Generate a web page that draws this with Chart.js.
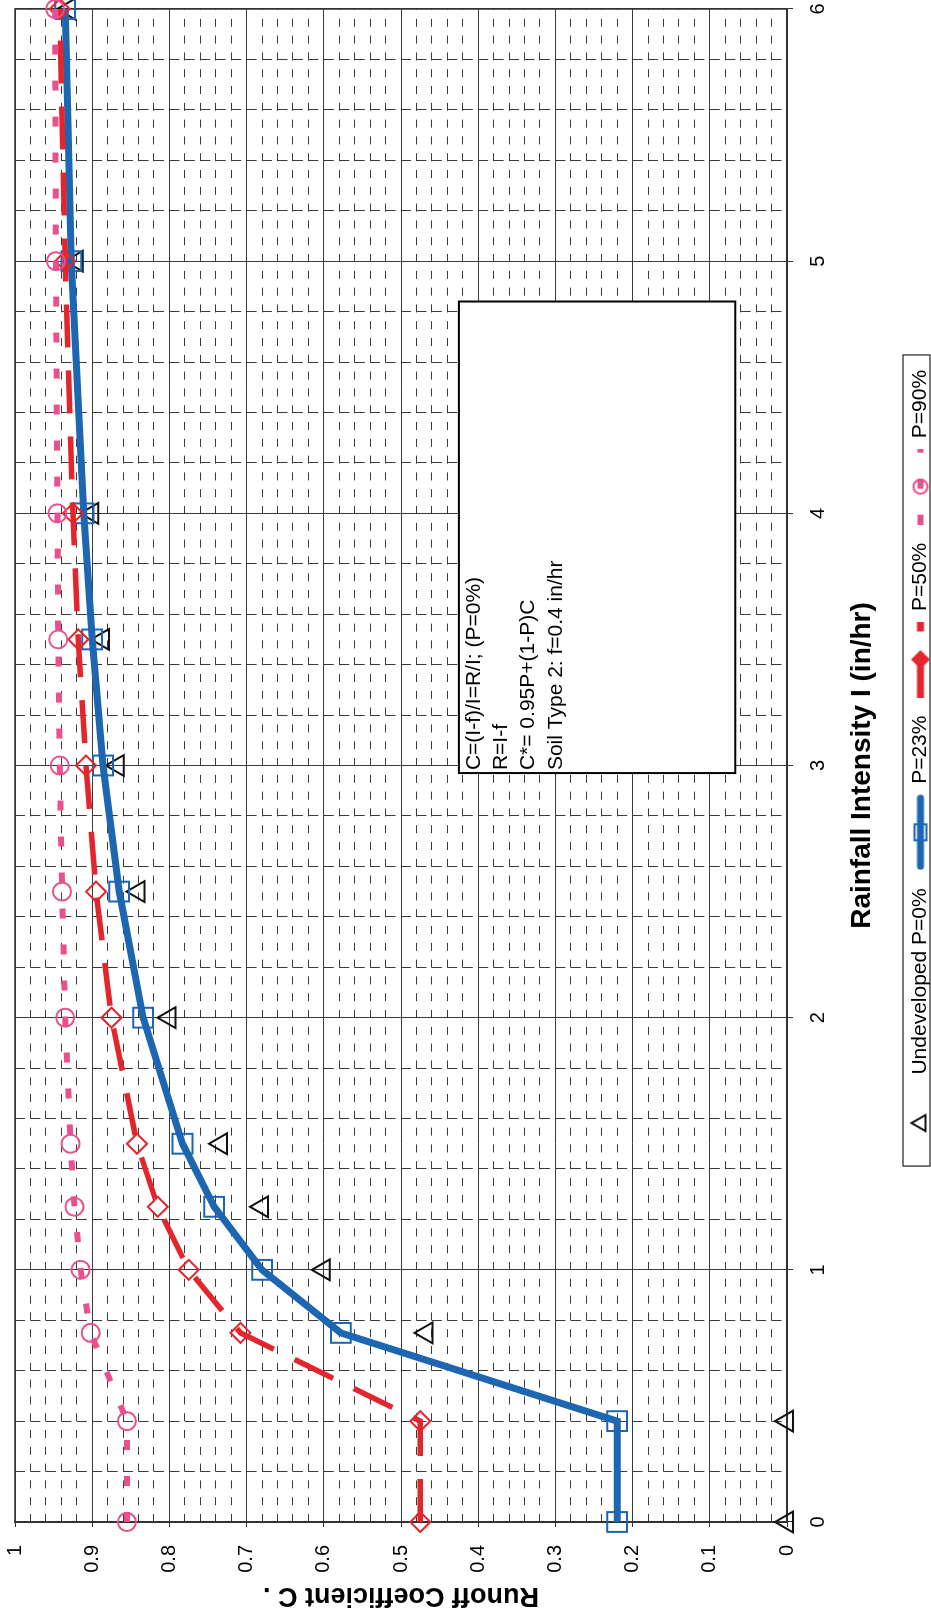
<!DOCTYPE html>
<html>
<head>
<meta charset="utf-8">
<title>Runoff Coefficient C vs Rainfall Intensity</title>
<script src="https://cdn.jsdelivr.net/npm/chart.js@4.4.1/dist/chart.umd.min.js"></script>
<style>
  html, body { margin: 0; padding: 0; background: #fff; overflow: hidden; }
  body { width: 931px; height: 1617px; position: relative; }
  /* chart is laid out landscape, then turned a quarter turn like the printed page */
  #wrap { position: absolute; left: 0; top: 0; width: 1617px; height: 945px; background: #fff;
          transform-origin: 0 0; transform: translate(0, 1617px) rotate(-90deg); }
</style>
</head>
<body>
<div id="wrap"><canvas id="runoff" width="1617" height="945"></canvas></div>
<script>
const intensity   = [0, 0.4, 0.75, 1, 1.25, 1.5, 2, 2.5, 3, 3.5, 4, 5, 6];
const undeveloped = [0, 0, 0.467, 0.6, 0.68, 0.733, 0.8, 0.84, 0.867, 0.886, 0.9, 0.92, 0.93];
const p23 = [0.22, 0.22, 0.578, 0.68, 0.742, 0.783, 0.834, 0.865, 0.886, 0.9, 0.911, 0.927, 0.935];
const p50 = [0.475, 0.475, 0.708, 0.775, 0.815, 0.842, 0.875, 0.895, 0.908, 0.918, 0.925, 0.935, 0.942];
const p90 = [0.855, 0.855, 0.902, 0.915, 0.923, 0.928, 0.935, 0.939, 0.942, 0.944, 0.945, 0.947, 0.948];
const seriesNames = ['Undeveloped P=0%', 'P=23%', 'P=50%', 'P=90%'];

const intensityTicks  = [0, 1, 2, 3, 4, 5, 6];
const intensityLabels = ['0', '1', '2', '3', '4', '5', '6'];
const cTicks  = [0, 0.1, 0.2, 0.3, 0.4, 0.5, 0.6, 0.7, 0.8, 0.9, 1];
const cLabels = ['0', '0.1', '0.2', '0.3', '0.4', '0.5', '0.6', '0.7', '0.8', '0.9', '1'];

const noteLines = ['C=(I-f)/I=R/I; (P=0%)', 'R=I-f', 'C*= 0.95P+(1-P)C', 'Soil Type 2: f=0.4 in/hr'];

const BLUE = '#1d66b1', RED = '#e3262d', PINK = '#e8508e', INK = '#111';
const GRID = '#3a3a3a';

Chart.defaults.font.family = '"Liberation Sans", Arial, sans-serif';
Chart.defaults.color = '#000';

function pts(arr) {
  return intensity.map((x, i) => ({ x: x, y: arr[i] }));
}

// small pictures for the legend: line piece with its marker
function legendIcon(draw) {
  const c = document.createElement('canvas');
  c.width = 76; c.height = 26;
  draw(c.getContext('2d'), 38, 13);
  return c;
}
const legendIcons = [
  legendIcon((g, cx, cy) => {
    g.strokeStyle = INK; g.lineWidth = 2;
    g.beginPath(); g.moveTo(cx, cy - 9); g.lineTo(cx + 8, cy + 5); g.lineTo(cx - 8, cy + 5); g.closePath(); g.stroke();
  }),
  legendIcon((g, cx, cy) => {
    g.strokeStyle = BLUE; g.lineWidth = 7; g.lineCap = 'round';
    g.beginPath(); g.moveTo(4, cy); g.lineTo(72, cy); g.stroke();
    g.lineWidth = 2; g.strokeRect(cx - 8, cy - 6, 16, 12);
  }),
  legendIcon((g, cx, cy) => {
    g.strokeStyle = RED; g.lineWidth = 7; g.setLineDash([43, 23]);
    g.beginPath(); g.moveTo(0, cy); g.lineTo(76, cy); g.stroke();
    g.setLineDash([]); g.lineWidth = 2; g.fillStyle = RED;
    g.beginPath(); g.moveTo(cx, cy - 8); g.lineTo(cx + 8, cy); g.lineTo(cx, cy + 8); g.lineTo(cx - 8, cy); g.closePath(); g.fill(); g.stroke();
  }),
  legendIcon((g, cx, cy) => {
    g.strokeStyle = PINK; g.lineWidth = 6; g.setLineDash([10, 26]);
    g.beginPath(); g.moveTo(0, cy); g.lineTo(76, cy); g.stroke();
    g.setLineDash([]); g.lineWidth = 2;
    g.beginPath(); g.arc(cx, cy, 7, 0, Math.PI * 2); g.stroke();
  })
];

// plot frame, text box and legend border
const decorations = {
  id: 'decorations',
  beforeDatasetsDraw(chart) {
    const { ctx, chartArea: a, scales } = chart;
    ctx.save();
    ctx.strokeStyle = '#333';
    ctx.lineWidth = 1.5;
    ctx.strokeRect(a.left, a.top, a.right - a.left, a.bottom - a.top);

    const x1 = scales.x.getPixelForValue(2.97), x2 = scales.x.getPixelForValue(4.84);
    const y1 = scales.y.getPixelForValue(0.425), y2 = scales.y.getPixelForValue(0.067);
    ctx.fillStyle = '#fff';
    ctx.fillRect(x1, y1, x2 - x1, y2 - y1);
    ctx.strokeStyle = '#000';
    ctx.lineWidth = 2;
    ctx.strokeRect(x1, y1, x2 - x1, y2 - y1);
    ctx.fillStyle = '#000';
    ctx.font = '21px "Liberation Sans", Arial, sans-serif';
    ctx.textBaseline = 'middle';
    ctx.textAlign = 'left';
    noteLines.forEach((t, i) => ctx.fillText(t, x1 + 3, y1 + 15 + i * 27.3));
    ctx.restore();
  },
  afterDraw(chart) {
    const lg = chart.legend, hb = lg.legendHitBoxes;
    if (!hb || !hb.length) return;
    const last = hb[hb.length - 1];
    const ctx = chart.ctx;
    ctx.save();
    ctx.strokeStyle = '#222';
    ctx.lineWidth = 1.2;
    const left = hb[0].left - 5, right = last.left + last.width + 15;
    ctx.strokeRect(left, lg.top + 11, right - left, 930 - lg.top - 11);
    ctx.restore();
  }
};

new Chart(document.getElementById('runoff'), {
  type: 'line',
  data: {
    datasets: [
      { label: seriesNames[0], data: pts(undeveloped), showLine: false, order: 3,
        pointStyle: 'triangle', pointRadius: 12, pointBorderWidth: 2,
        borderColor: INK, pointBackgroundColor: 'transparent', clip: false },
      { label: seriesNames[1], data: pts(p23), order: 2, borderColor: BLUE, borderWidth: 7,
        pointStyle: 'rect', pointRadius: 14, pointBorderWidth: 2,
        pointBackgroundColor: 'transparent', tension: 0, clip: false },
      { label: seriesNames[2], data: pts(p50), order: 1, borderColor: RED, borderWidth: 5.5,
        borderDash: [43, 23], pointStyle: 'rectRot', pointRadius: 10, pointBorderWidth: 2,
        pointBackgroundColor: 'transparent', tension: 0, clip: false },
      { label: seriesNames[3], data: pts(p90), order: 0, borderColor: PINK, borderWidth: 6,
        borderDash: [10, 26], pointStyle: 'circle', pointRadius: 9, pointBorderWidth: 2,
        pointBackgroundColor: 'transparent', tension: 0, clip: false }
    ]
  },
  options: {
    responsive: false,
    animation: false,
    events: [],
    layout: { autoPadding: false, padding: { left: 0, right: 9, top: 15, bottom: 4 } },
    plugins: {
      tooltip: { enabled: false },
      legend: {
        position: 'bottom',
        fullSize: false,
        labels: {
          usePointStyle: true,
          pointStyleWidth: 76,
          padding: 18,
          font: { size: 21 },
          color: '#000',
          generateLabels: chart => chart.data.datasets.map((ds, i) => ({
            text: ds.label, pointStyle: legendIcons[i], datasetIndex: i, hidden: false,
            fillStyle: 'transparent', strokeStyle: 'transparent', lineWidth: 0, fontColor: '#000'
          }))
        }
      }
    },
    scales: {
      x: {
        type: 'linear', position: 'bottom', min: 0, max: 6,
        afterBuildTicks: s => { s.ticks = intensityTicks.map(v => ({ value: v })); },
        afterFit: s => { s.height = 105; s.paddingLeft = 0; s.paddingRight = 0; },
        ticks: { font: { size: 20 }, color: '#000', padding: 13, maxRotation: 0, autoSkip: false,
                 callback: (v, i) => intensityLabels[i] },
        grid: { color: GRID, lineWidth: 1, tickLength: 6, tickColor: '#333', z: -1 },
        border: { display: true, color: '#333', width: 1.5 },
        title: { display: true, text: 'Rainfall Intensity I (in/hr)', color: '#000',
                 font: { size: 28, weight: 'bold' }, padding: { top: 0, bottom: 13 } }
      },
      xMinor: {
        type: 'linear', position: 'bottom', min: 0, max: 6,
        afterFit: s => { s.height = 0; s.paddingLeft = 0; s.paddingRight = 0; },
        ticks: { display: false, stepSize: 0.2, autoSkip: false },
        grid: { color: GRID, lineWidth: 1, drawTicks: false, z: -2 },
        border: { display: false, dash: [10, 5.44] }
      },
      y: {
        type: 'linear', position: 'left', min: 0, max: 1,
        afterBuildTicks: s => { s.ticks = cTicks.map(v => ({ value: v })); },
        afterFit: s => { s.width = 95; s.paddingTop = 0; s.paddingBottom = 0; },
        ticks: { font: { size: 20 }, color: '#000', padding: 18, autoSkip: false,
                 callback: (v, i) => cLabels[i] },
        grid: { color: GRID, lineWidth: 1, tickLength: 5, tickColor: '#333', z: -1 },
        border: { display: true, color: '#333', width: 1.5 },
        title: { display: true, text: 'Runoff Coefficient C .', color: '#000',
                 font: { size: 27, weight: 'bold' }, padding: { top: 5, bottom: 0 } }
      },
      yMinor: {
        type: 'linear', position: 'left', min: 0, max: 1,
        afterFit: s => { s.width = 0; s.paddingTop = 0; s.paddingBottom = 0; },
        ticks: { display: false, stepSize: 0.02, autoSkip: false },
        grid: { color: GRID, lineWidth: 1, drawTicks: false, z: -2 },
        border: { display: false, dash: [8, 8.8] }
      }
    }
  },
  plugins: [decorations]
});
</script>
</body>
</html>
